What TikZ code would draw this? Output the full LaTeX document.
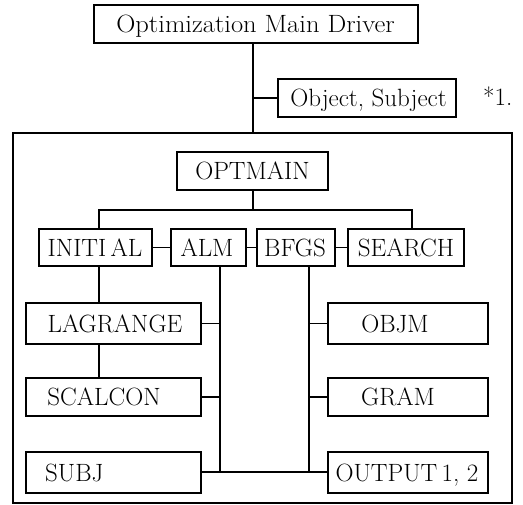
\documentclass[tikz,border=0pt]{standalone}
\usepackage{graphicx}
\begin{document}
\begin{tikzpicture}[x=1pt,y=-1pt,
  box/.style={draw,line width=1.4pt,inner sep=0pt,anchor=center},
  lbl/.style={inner sep=0pt,font=\fontsize{25}{29}\selectfont,text height=17.1pt,text depth=0pt},
  conn/.style={line width=1.4pt}]
\useasboundingbox (0,0) rectangle (523,505);
% boxes
\node[box,minimum width=324pt,minimum height=38pt] (drv) at (256,24) {};
\node[box,minimum width=178pt,minimum height=38pt] (obj) at (367,98) {};
\node[box,minimum width=499pt,minimum height=370pt] (outer) at (262.5,318) {};
\node[box,minimum width=151pt,minimum height=38pt] (opt) at (252.5,171) {};
\node[box,minimum width=113pt,minimum height=37pt] (ini) at (95.5,247.5) {};
\node[box,minimum width=75pt,minimum height=37pt] (alm) at (208.5,247.5) {};
\node[box,minimum width=78pt,minimum height=37pt] (bfgs) at (296,247.5) {};
\node[box,minimum width=116pt,minimum height=37pt] (sea) at (406,247.5) {};
\node[box,minimum width=175pt,minimum height=41pt] (lag) at (113.5,323.5) {};
\node[box,minimum width=175pt,minimum height=38pt] (sca) at (113.5,397) {};
\node[box,minimum width=175pt,minimum height=41pt] (subj) at (113.5,472.5) {};
\node[box,minimum width=160pt,minimum height=41pt] (objm) at (408,323.5) {};
\node[box,minimum width=160pt,minimum height=38pt] (gram) at (408,397) {};
\node[box,minimum width=160pt,minimum height=41pt] (out) at (408,472.5) {};
% labels
\node[lbl] (drvt) at (255.5,24) {\scalebox{1.06}[1]{Optimization Main Driver}};
\node[lbl] (objt) at (368.5,98) {Object, Subject};
\node[lbl,anchor=base west] (note) at (483,106) {*1.};
\node[lbl] (optt) at (252.5,171) {OPTMAIN};
\node[lbl] (init) at (95,247.5) {INITI\,AL};
\node[lbl] (almt) at (207,247.5) {ALM};
\node[lbl] (bfgst) at (295,247.5) {BFGS};
\node[lbl] (seat) at (406,247.5) {SEARCH};
\node[lbl] (lagt) at (115,323.5) {LAGRANGE};
\node[lbl] (scat) at (104,397) {SCALCON};
\node[lbl,anchor=west] (subjt) at (45,472.5) {SUBJ};
\node[lbl] (objmt) at (395,323.5) {OBJM};
\node[lbl] (gramt) at (398,397) {GRAM};
\node[lbl] (outt) at (407,472.5) {OUTPUT\,1, 2};
% junction coordinates
\coordinate (tr) at (253,98);
\coordinate (busL) at (99,210);
\coordinate (busR) at (412,210);
\coordinate (busM) at (253,210);
\coordinate (almx) at (220,0);
\coordinate (bfx) at (309,0);
\coordinate (bot) at (0,472);
% connectors
\draw[conn] (drv.south -| tr) -- (outer.north -| tr);
\draw[conn] (tr) -- (obj.west);
\draw[conn] (opt.south -| busM) -- (busM);
\draw[conn] (ini.north -| busL) -- (busL) -- (busR) -- (sea.north -| busR);
\draw[conn] (ini.east) -- (alm.west);
\draw[conn] (alm.east) -- (bfgs.west);
\draw[conn] (bfgs.east) -- (sea.west);
\draw[conn] (ini.south -| busL) -- (lag.north -| busL);
\draw[conn] (lag.south -| busL) -- (sca.north -| busL);
\draw[conn] (alm.south -| almx) -- (bot -| almx);
\draw[conn] (bfgs.south -| bfx) -- (bot -| bfx);
\draw[conn] (lag.east) -- (lag.east -| almx);
\draw[conn] (sca.east) -- (sca.east -| almx);
\draw[conn] (objm.west) -- (objm.west -| bfx);
\draw[conn] (gram.west) -- (gram.west -| bfx);
\draw[conn] (subj.east |- bot) -- (out.west |- bot);
\end{tikzpicture}
\end{document}
